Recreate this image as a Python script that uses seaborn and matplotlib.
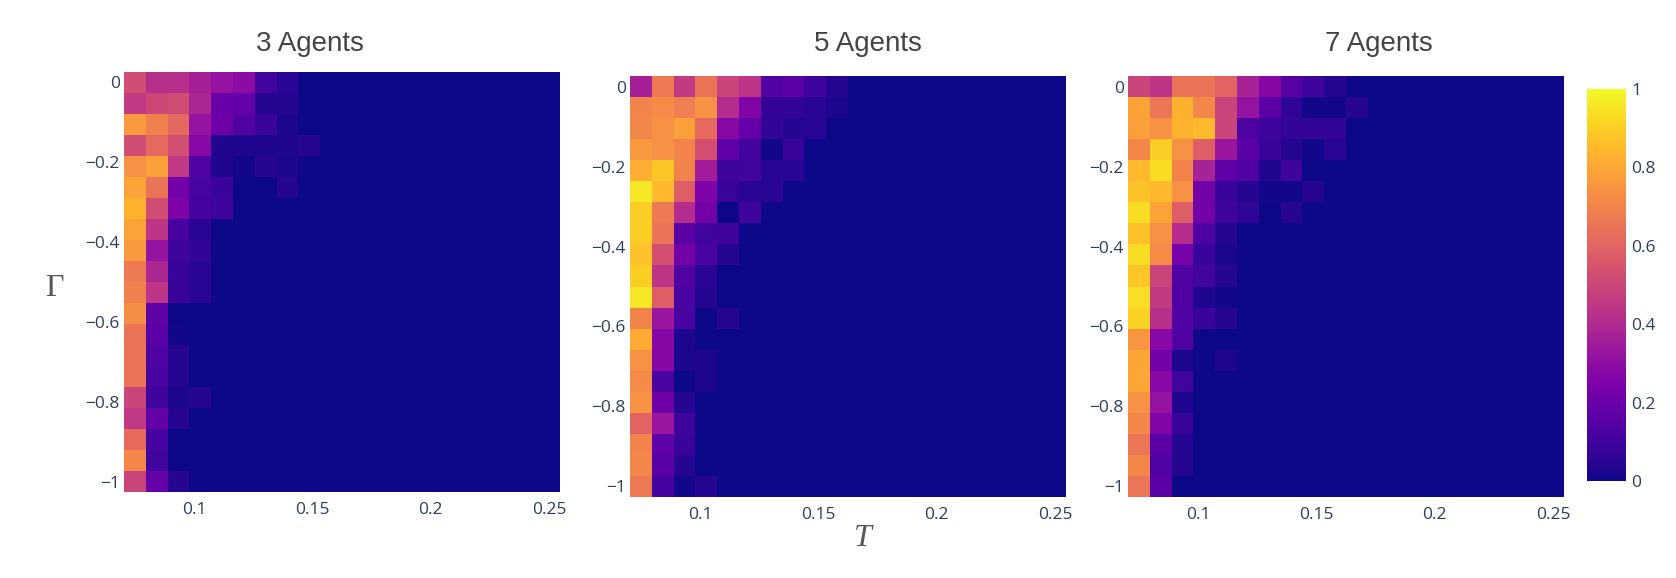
import numpy as np
import pandas as pd
import matplotlib
matplotlib.use("Agg")
import matplotlib.pyplot as plt
import seaborn as sns

# grid of the simulation (temperature T on x, Gamma on y)
T = np.linspace(0.075, 0.25, 20)
GAMMA = np.linspace(0, -1, 20)

# fraction values, rows from Gamma = 0 (top) down to Gamma = -1,
# only the first columns are non zero, the rest of each row is 0
agents_3 = [
    [0.52, 0.42, 0.42, 0.36, 0.32, 0.29, 0.10, 0.05],
    [0.45, 0.50, 0.52, 0.39, 0.20, 0.18, 0.04, 0.04],
    [0.76, 0.69, 0.61, 0.32, 0.21, 0.14, 0.08, 0.02],
    [0.52, 0.62, 0.53, 0.28, 0.03, 0.03, 0.03, 0.03, 0.04],
    [0.74, 0.78, 0.45, 0.14, 0.03, 0.01, 0.04, 0.02],
    [0.79, 0.65, 0.22, 0.12, 0.08, 0.00, 0.00, 0.04],
    [0.83, 0.52, 0.25, 0.11, 0.09],
    [0.79, 0.44, 0.11, 0.05],
    [0.76, 0.32, 0.09, 0.07],
    [0.67, 0.39, 0.08, 0.05],
    [0.69, 0.44, 0.08, 0.05],
    [0.73, 0.17],
    [0.65, 0.16, 0.01],
    [0.65, 0.14, 0.04],
    [0.65, 0.12, 0.04],
    [0.49, 0.09, 0.02, 0.04],
    [0.45, 0.18, 0.04],
    [0.62, 0.11],
    [0.71, 0.10],
    [0.49, 0.18, 0.04],
]

agents_5 = [
    [0.36, 0.67, 0.46, 0.65, 0.49, 0.44, 0.14, 0.16, 0.09, 0.04],
    [0.70, 0.72, 0.68, 0.74, 0.41, 0.26, 0.07, 0.07, 0.05, 0.02],
    [0.71, 0.74, 0.78, 0.62, 0.28, 0.18, 0.07, 0.04, 0.05],
    [0.76, 0.74, 0.70, 0.53, 0.17, 0.10, 0.01, 0.08],
    [0.82, 0.88, 0.70, 0.35, 0.09, 0.10, 0.05, 0.05],
    [0.96, 0.85, 0.58, 0.25, 0.08, 0.05, 0.05],
    [0.90, 0.67, 0.41, 0.22, 0.00, 0.09],
    [0.90, 0.65, 0.16, 0.10, 0.09],
    [0.87, 0.53, 0.22, 0.12, 0.04],
    [0.90, 0.44, 0.14, 0.05],
    [0.96, 0.58, 0.12, 0.04],
    [0.70, 0.33, 0.12, 0.00, 0.04],
    [0.81, 0.27, 0.02],
    [0.74, 0.27, 0.02, 0.03],
    [0.72, 0.12, 0.00, 0.03],
    [0.74, 0.21, 0.04],
    [0.60, 0.33, 0.09],
    [0.70, 0.17, 0.08],
    [0.71, 0.16, 0.04],
    [0.67, 0.11, 0.01, 0.04],
]

agents_7 = [
    [0.49, 0.44, 0.65, 0.65, 0.60, 0.37, 0.27, 0.15, 0.09, 0.04],
    [0.79, 0.66, 0.83, 0.71, 0.49, 0.32, 0.16, 0.06, 0.01, 0.01, 0.04],
    [0.78, 0.74, 0.83, 0.85, 0.49, 0.13, 0.09, 0.07, 0.07, 0.07],
    [0.71, 0.90, 0.74, 0.58, 0.33, 0.16, 0.08, 0.04, 0.01, 0.05],
    [0.85, 0.93, 0.70, 0.37, 0.17, 0.14, 0.03, 0.09],
    [0.87, 0.85, 0.74, 0.22, 0.08, 0.04, 0.01, 0.01, 0.04],
    [0.93, 0.79, 0.58, 0.22, 0.09, 0.06, 0.00, 0.04],
    [0.87, 0.74, 0.41, 0.13, 0.04],
    [0.93, 0.72, 0.23, 0.08, 0.02],
    [0.88, 0.49, 0.14, 0.10, 0.04],
    [0.94, 0.46, 0.14, 0.03, 0.01],
    [0.91, 0.42, 0.14, 0.08, 0.04],
    [0.75, 0.28, 0.14],
    [0.80, 0.22, 0.02, 0.00, 0.03],
    [0.80, 0.28, 0.09],
    [0.74, 0.32, 0.03],
    [0.71, 0.26, 0.08],
    [0.66, 0.16, 0.04],
    [0.71, 0.14, 0.04],
    [0.66, 0.16, 0.00],
]

titles = ["3 Agents", "5 Agents", "7 Agents"]
x_ticks = [0.1, 0.15, 0.2, 0.25]
x_tick_labels = ["0.1", "0.15", "0.2", "0.25"]
y_ticks = [0, -0.2, -0.4, -0.6, -0.8, -1]
y_tick_labels = ["0", "\u22120.2", "\u22120.4", "\u22120.6", "\u22120.8", "\u22121"]
cbar_ticks = [0, 0.2, 0.4, 0.6, 0.8, 1]
cbar_tick_labels = ["0", "0.2", "0.4", "0.6", "0.8", "1"]


def to_frame(rows):
    full = [r + [0.0] * (len(T) - len(r)) for r in rows]
    return pd.DataFrame(full, index=GAMMA, columns=T)


sns.set_style("white")
plt.rcParams["font.family"] = ["Open Sans", "DejaVu Sans"]

W, H = 1676, 578
fig = plt.figure(figsize=(W / 100, H / 100), dpi=100)

# panel boxes in pixels: left, top, width, height
boxes = [(124, 72, 436, 420), (630, 76, 436, 421), (1128, 76, 436, 421)]
title_x = [310, 868, 1379]
cax = fig.add_axes([1587 / W, 1 - 481 / H, 39 / W, 392 / H])

tick_color = "#2a3f5f"
dT = T[1] - T[0]
dG = GAMMA[0] - GAMMA[1]

for i, rows in enumerate([agents_3, agents_5, agents_7]):
    l, t, w, h = boxes[i]
    ax = fig.add_axes([l / W, 1 - (t + h) / H, w / W, h / H])
    sns.heatmap(
        to_frame(rows),
        ax=ax,
        cmap="plasma",
        vmin=0,
        vmax=1,
        cbar=(i == 2),
        cbar_ax=cax if i == 2 else None,
        xticklabels=False,
        yticklabels=False,
    )
    ax.set_xticks([(v - T[0]) / dT + 0.5 for v in x_ticks])
    ax.set_xticklabels(x_tick_labels)
    ax.set_yticks([(GAMMA[0] - v) / dG + 0.5 for v in y_ticks])
    ax.set_yticklabels(y_tick_labels, rotation=0)
    ax.tick_params(axis="x", length=0, pad=7, labelsize=12.5, colors=tick_color)
    ax.tick_params(axis="y", length=0, pad=3, labelsize=12.5, colors=tick_color)
    ax.set_xlabel("")
    ax.set_ylabel("")
    fig.text(title_x[i] / W, 1 - 44 / H, titles[i], ha="center", va="center",
             fontsize=20, color="#444444", family="Liberation Sans")

cbar = fig.axes[-1].collections[0].colorbar
cbar.set_ticks(cbar_ticks)
cbar.set_ticklabels(cbar_tick_labels)
cbar.outline.set_visible(False)
cax.tick_params(length=0, pad=4, labelsize=12.5, colors=tick_color)

fig.text(54 / W, 1 - 289 / H, "\u0393", ha="center", va="center",
         fontsize=23, color="#555555", family="Liberation Serif")
fig.text(863 / W, 1 - 539 / H, "T", ha="center", va="center",
         fontsize=23, color="#555555", family="Liberation Serif", style="italic")

fig.savefig("out.png", dpi=100)
